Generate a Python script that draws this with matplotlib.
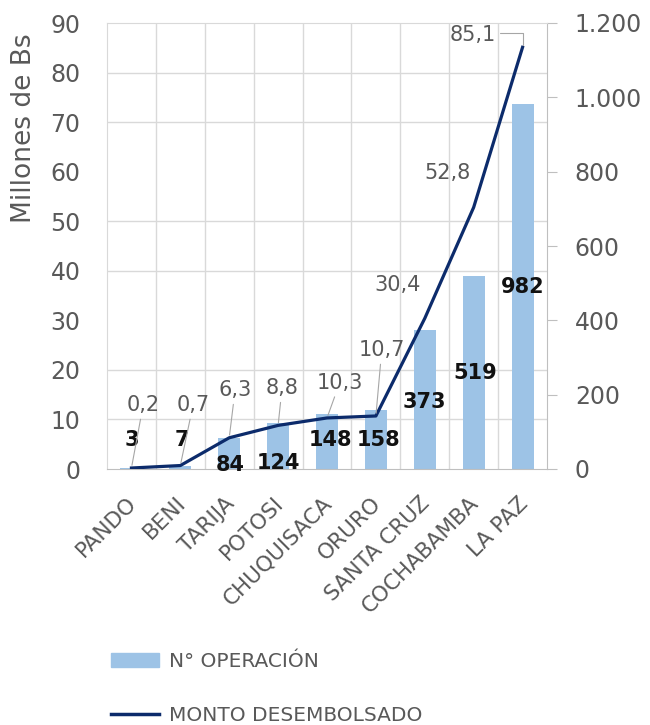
import numpy as np
import matplotlib
matplotlib.use("Agg")
import matplotlib.pyplot as plt
from matplotlib.ticker import FixedLocator, FuncFormatter
from matplotlib.transforms import ScaledTranslation
from matplotlib.patches import Patch
from matplotlib.lines import Line2D

# data
departamentos = ["PANDO", "BENI", "TARIJA", "POTOSI", "CHUQUISACA",
                 "ORURO", "SANTA CRUZ", "COCHABAMBA", "LA PAZ"]
operaciones = [3, 7, 84, 124, 148, 158, 373, 519, 982]
monto = [0.2, 0.7, 6.3, 8.8, 10.3, 10.7, 30.4, 52.8, 85.1]

# manual label placement (as in the Excel original)
op_label_y = [78, 78, 11, 16, 78, 78, 180, 258, 490]          # right-axis units
op_label_dx = [0, 0.03, 0.02, 0, 0.08, 0.06, 0, 0.03, 0]
monto_label_off = [(0.24, 12.7), (0.26, 12.2), (0.12, 9.6), (0.08, 7.5),
                   (0.26, 7.1), (0.12, 13.3), (-0.55, 6.7), (-0.53, 6.9),
                   (-1.02, 2.5)]
leader = [True, True, True, True, True, True, False, False, True]

BAR = "#9DC3E6"
LINE = "#0C2B6B"
GRAY = "#595959"

fig = plt.figure(figsize=(6.5, 7.25), dpi=100)
ax = fig.add_axes([107 / 650, 1 - 469 / 725, 440 / 650, 446 / 725])
ax2 = ax.twinx()

x = np.arange(len(departamentos))

# bars on the right axis (N° operaciones)
ax.bar(x, operaciones, width=0.45, color=BAR, zorder=2)
ax.set_xlim(-0.5, 8.5)
ax.set_ylim(0, 1200)
ax.yaxis.tick_right()
ax.set_yticks(range(0, 1201, 200))
ax.yaxis.set_major_formatter(FuncFormatter(lambda v, p: f"{v:,.0f}".replace(",", ".")))
ax.yaxis.set_minor_locator(FixedLocator(np.linspace(0, 1200, 10)))
ax.xaxis.set_minor_locator(FixedLocator(np.arange(0.5, 8.5, 1)))
ax.grid(which="minor", color="#D9D9D9", lw=1)
ax.set_axisbelow(True)
ax.tick_params(which="minor", length=0)
ax.tick_params(axis="y", which="major", direction="out", length=7, color="#BFBFBF",
               pad=13, labelsize=17, labelcolor=GRAY)
ax.set_xticks(x)
ax.set_xticklabels(departamentos, rotation=45, ha="right", rotation_mode="anchor",
                   fontsize=15.5, color=GRAY)
ax.tick_params(axis="x", which="major", length=0, pad=8)
shift = ScaledTranslation(-0.05, -0.13, fig.dpi_scale_trans)
for lab in ax.get_xticklabels():
    lab.set_transform(lab.get_transform() + shift)
ax.spines["left"].set_color("#D9D9D9")
ax.spines["top"].set_color("#D9D9D9")
ax.spines["bottom"].set_color("#BFBFBF")
ax.spines["right"].set_color("#BFBFBF")

# line on the left axis (monto)
ax2.plot(x, monto, color=LINE, lw=2.3, zorder=3)
ax2.set_ylim(0, 90)
ax2.set_yticks(range(0, 91, 10))
ax2.yaxis.tick_left()
ax2.yaxis.set_label_position("left")
ax2.tick_params(axis="y", length=0, pad=19, labelsize=17, labelcolor=GRAY)
ax2.set_ylabel("Millones de Bs", fontsize=19, color=GRAY)
ax2.yaxis.set_label_coords(-0.16, 0.765)
for s in ax2.spines.values():
    s.set_visible(False)

# bar labels
for xi, v, ly, dx in zip(x, operaciones, op_label_y, op_label_dx):
    ax2.text(xi + dx, ly, str(v), transform=ax.transData, ha="center", va="center",
             fontsize=15, fontweight="bold", color="#111111", zorder=5)

# line labels
for i, (xi, v) in enumerate(zip(x, monto)):
    dx, dy = monto_label_off[i]
    txt = f"{v:.1f}".replace(".", ",")
    arrow = None
    if leader[i]:
        arrow = dict(arrowstyle="-", color="#A6A6A6", lw=0.8, shrinkA=1, shrinkB=2)
        if i == len(monto) - 1:
            arrow.update(connectionstyle="angle,angleA=0,angleB=90,rad=0",
                         relpos=(1, 0.6))
    ax2.annotate(txt, xy=(xi, v), xytext=(xi + dx, v + dy), ha="center", va="center",
                 fontsize=15, color=GRAY, arrowprops=arrow, zorder=5)

handles = [Patch(color=BAR), Line2D([], [], color=LINE, lw=2.5)]
fig.legend(handles, ["N° OPERACIÓN", "MONTO DESEMBOLSADO"], loc="upper left",
           bbox_to_anchor=(111 / 650, 1 - 652 / 725), frameon=False, fontsize=14.5,
           labelcolor=GRAY, handlelength=2.4, labelspacing=1.75, handletextpad=0.5,
           borderaxespad=0, borderpad=0)

fig.savefig("out.png", dpi=100)
